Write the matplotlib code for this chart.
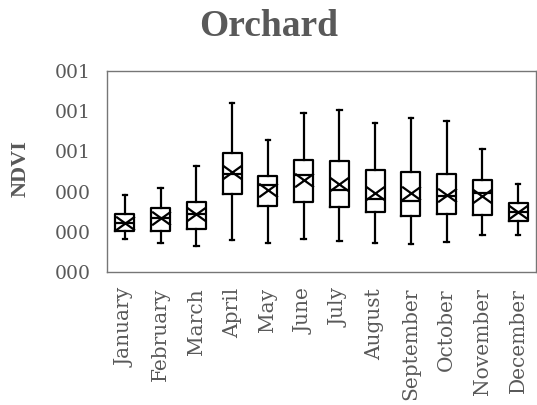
import matplotlib
matplotlib.use("Agg")
import matplotlib.pyplot as plt
from matplotlib.path import Path

months = ["January", "February", "March", "April", "May", "June", "July",
          "August", "September", "October", "November", "December"]
whislo = [0.163, 0.146, 0.129, 0.159, 0.146, 0.164, 0.154, 0.143, 0.138, 0.151, 0.184, 0.184]
q1     = [0.204, 0.204, 0.214, 0.387, 0.330, 0.350, 0.325, 0.300, 0.280, 0.289, 0.284, 0.254]
med    = [0.245, 0.267, 0.287, 0.488, 0.433, 0.483, 0.406, 0.363, 0.353, 0.378, 0.392, 0.300]
q3     = [0.287, 0.320, 0.350, 0.594, 0.478, 0.557, 0.552, 0.507, 0.496, 0.489, 0.458, 0.345]
whishi = [0.383, 0.420, 0.527, 0.839, 0.657, 0.790, 0.806, 0.740, 0.768, 0.751, 0.610, 0.438]
mean   = [0.245, 0.267, 0.287, 0.496, 0.410, 0.458, 0.436, 0.395, 0.391, 0.383, 0.378, 0.300]
yticks = [0.0, 0.2, 0.4, 0.6, 0.8, 1.0]
ytick_labels = ["000", "000", "000", "001", "001", "001"]

GRAY = "#595959"
SERIF = ["DejaVu Serif"]
TSERIF = ["Liberation Serif", "DejaVu Serif"]

fig = plt.figure(figsize=(5.37, 4.05), dpi=100)
ax = fig.add_axes([107/537, 1-272/405, (536-107)/537, (272-71)/405])

stats = []
for i, m in enumerate(months):
    stats.append(dict(label=m, whislo=whislo[i], q1=q1[i], med=med[i],
                      q3=q3[i], whishi=whishi[i], mean=mean[i], fliers=[]))

xmark = Path([(-1, -0.72), (1, 0.72), (-1, 0.72), (1, -0.72)],
             [Path.MOVETO, Path.LINETO, Path.MOVETO, Path.LINETO])

lw = 1.6
ax.bxp(stats, positions=range(1, 13), widths=0.53, showmeans=True,
       showfliers=False, capwidths=0.12,
       boxprops=dict(color="black", linewidth=lw),
       whiskerprops=dict(color="black", linewidth=lw),
       capprops=dict(color="black", linewidth=lw),
       medianprops=dict(color="black", linewidth=lw),
       meanprops=dict(marker=xmark, markersize=13.5, markeredgecolor="black",
                      markerfacecolor="none", markeredgewidth=lw))

ax.set_xlim(0.5, 12.5)
ax.set_ylim(0, 1.0)
ax.set_yticks(yticks)
ax.set_yticklabels(ytick_labels, family=SERIF, fontsize=13.5, color=GRAY)
ax.set_xticks(range(1, 13))
ax.set_xticklabels(months, rotation=90, family=SERIF, fontsize=14.5, color=GRAY)
ax.tick_params(axis="both", length=0)
ax.tick_params(axis="y", pad=11.5)
ax.tick_params(axis="x", pad=11.5)
for s in ax.spines.values():
    s.set_color("#767676")
    s.set_linewidth(1.0)

fig.text(21/537, 1-169/405, "NDVI", rotation=90, ha="center", va="center",
         family=TSERIF, fontsize=16, fontweight="bold", color=GRAY)
fig.text(0.5, 1-36/405, "Orchard", ha="center", va="baseline", family=TSERIF,
         fontsize=27, fontweight="bold", color=GRAY)

fig.savefig("out.png", dpi=100)
